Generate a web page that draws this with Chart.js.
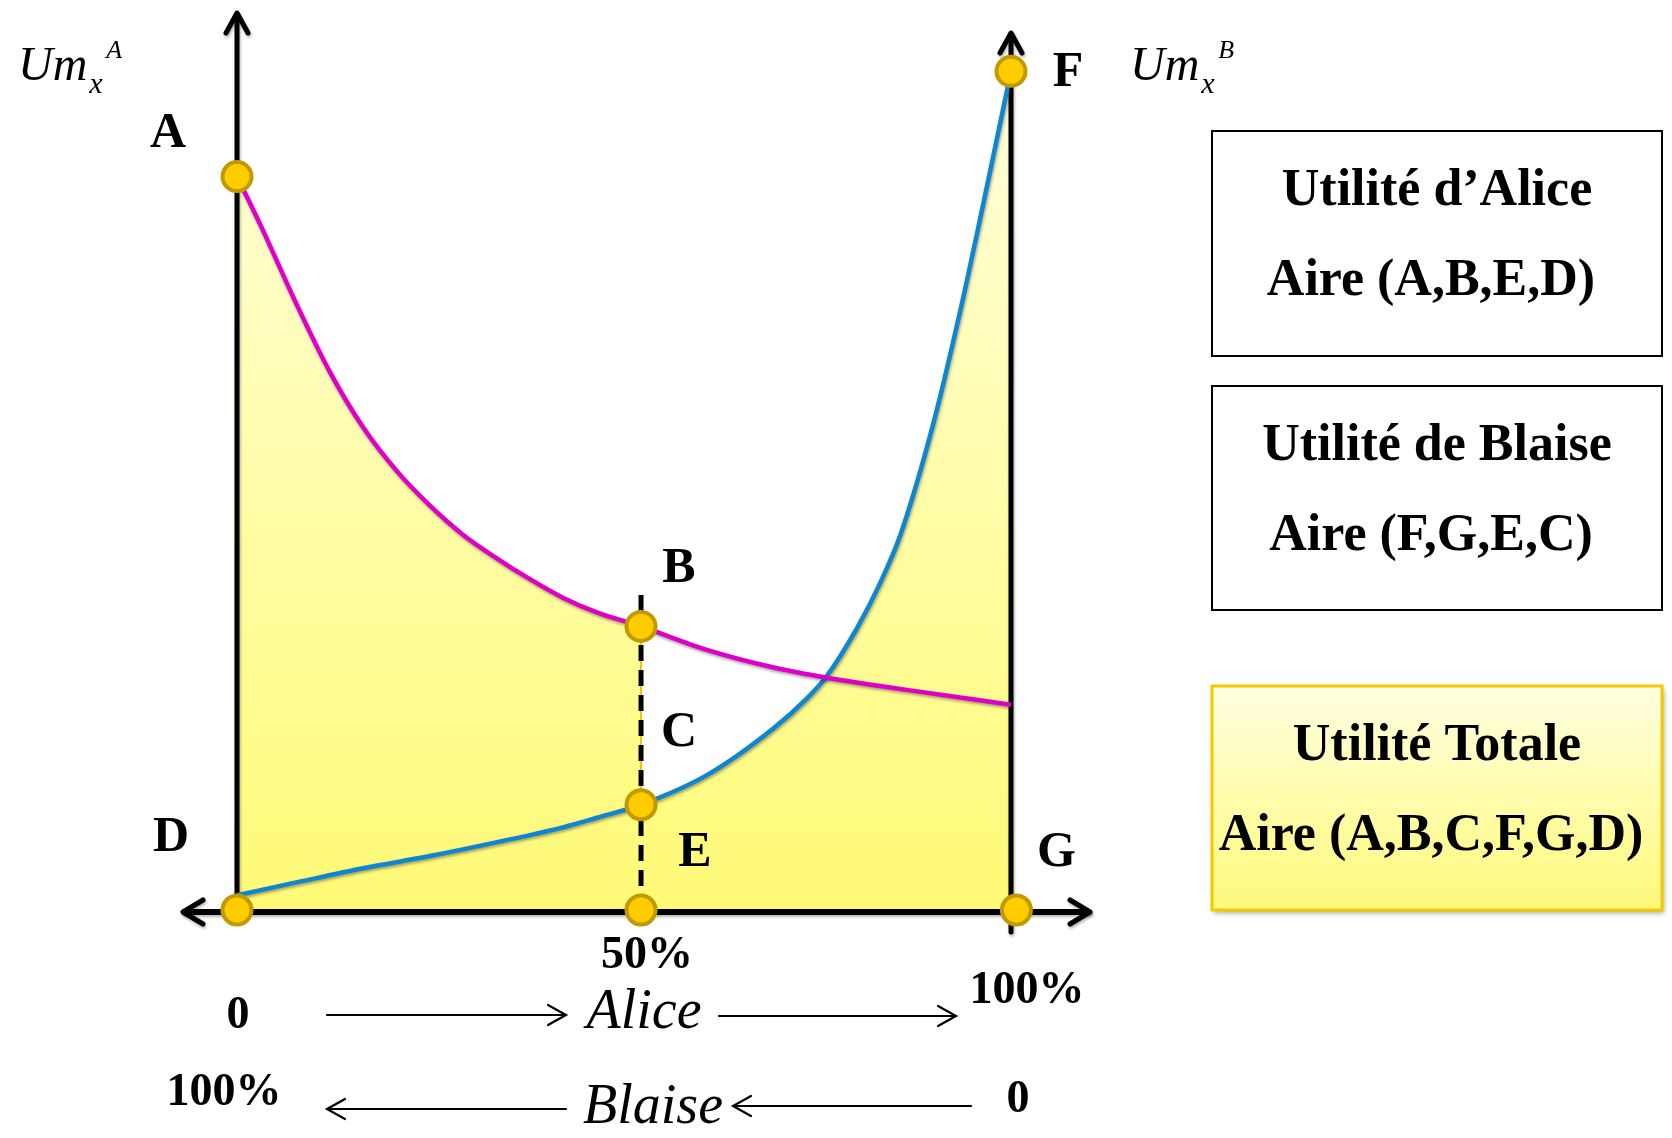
<!DOCTYPE html>
<html><head><meta charset="utf-8">
<script src="https://cdn.jsdelivr.net/npm/chart.js@4"></script>
<style>html,body{margin:0;padding:0;background:#fff;overflow:hidden}canvas{display:block}</style>
</head><body>
<canvas id="c" width="1672" height="1138"></canvas>
<script>
// ---- data (x = share of the good for Alice, %, y = marginal utility) ----
const shareMid = 52.2;
const pinkX = [0, 3.2, 7.6, 11.9, 16.2, 20.6, 24.9, 29.1, 33.6, 37.9, 42.1, 46.5, 52.2, 60.7, 69.2, 76.2, 86.5, 100];
const pinkY = [84.3, 78.4, 69.8, 62.0, 55.6, 50.5, 46.5, 43.2, 40.4, 38.0, 35.9, 34.2, 32.6, 29.9, 27.9, 26.7, 25.3, 23.6];
const blueX = [0, 7.8, 16.3, 24.9, 33.6, 42.1, 46.5, 52.2, 60.7, 69.2, 73.6, 76.2, 80.1, 83.1, 85.7, 89.9, 93.4, 96.4, 100];
const blueY = [1.7, 3.2, 4.8, 6.2, 7.8, 9.5, 10.6, 12.1, 15.5, 20.8, 24.3, 26.9, 32.4, 37.6, 43.1, 55.7, 68.7, 81.1, 96.4];
const pointNames = ['A', 'B', 'E', 'D', '', 'F', 'G'];
const pointX = [0, 52.2, 52.2, 0, 52.2, 100, 100.7];
const pointY = [84.3, 32.6, 12.1, 0, 0, 96.4, 0];
const dashTopY = 36.2;
const regionLabel = 'C';
const tickTop = ['0', '50%', '100%'];
const tickBottom = ['100%', '0'];
const boxTexts = [
  ['Utilité d\u2019Alice', 'Aire (A,B,E,D)'],
  ['Utilité de Blaise', 'Aire (F,G,E,C)'],
  ['Utilité Totale', 'Aire (A,B,C,F,G,D)']
];

// ---- derived point lists ----
const pinkPts = pinkX.map((x, i) => ({x, y: pinkY[i]}));
const bluePts = blueX.map((x, i) => ({x, y: blueY[i]}));
const fillLeftPts = pinkPts.filter(p => p.x <= shareMid);
const fillRightPts = bluePts.filter(p => p.x >= shareMid);
const markPts = pointX.map((x, i) => ({x, y: pointY[i]}));
const bIdx = pointNames.indexOf('B'), eIdx = pointNames.indexOf('E');

function fillGradient(context) {
  const ch = context.chart, a = ch.chartArea;
  if (!a) return 'rgba(255,250,150,0.9)';
  const g = ch.ctx.createLinearGradient(0, a.top, 0, a.bottom);
  g.addColorStop(0, '#FFFFE0');
  g.addColorStop(1, '#FFFA76');
  return g;
}

const SERIF = '"Liberation Serif", "DejaVu Serif", serif';

function chevron(c, tx, ty, dx, dy, len, half) {
  const bx = tx - dx * len, by = ty - dy * len;
  const px = -dy * half, py = dx * half;
  c.beginPath();
  c.moveTo(bx + px, by + py); c.lineTo(tx, ty); c.lineTo(bx - px, by - py);
  c.stroke();
}

const axesPlugin = {
  id: 'axesPlugin',
  beforeDatasetDraw(chart, args) {
    const ds = chart.data.datasets[args.index];
    if (ds.shadow) {
      const c = chart.ctx; c.save();
      c.shadowColor = 'rgba(0,0,0,0.35)'; c.shadowBlur = 3; c.shadowOffsetX = 1; c.shadowOffsetY = 2;
    }
  },
  afterDatasetDraw(chart, args) {
    const ds = chart.data.datasets[args.index];
    if (ds.shadow) chart.ctx.restore();
    if (!ds.drawAxesAfter) return;
    const c = chart.ctx, xs = chart.scales.x, ys = chart.scales.y;
    const x0 = xs.getPixelForValue(0), x1 = xs.getPixelForValue(100), y0 = ys.getPixelForValue(0);
    c.save();
    c.shadowColor = 'rgba(0,0,0,0.3)'; c.shadowBlur = 3; c.shadowOffsetX = 1; c.shadowOffsetY = 2;
    c.strokeStyle = '#000'; c.lineCap = 'round'; c.lineJoin = 'round';
    c.lineWidth = 6;
    c.beginPath(); c.moveTo(x0 - 52, y0 + 2); c.lineTo(x1 + 77, y0 + 2); c.stroke();
    c.lineWidth = 5;
    chevron(c, x1 + 79, y0 + 2, 1, 0, 20, 12);
    chevron(c, x0 - 54, y0 + 2, -1, 0, 20, 12);
    c.beginPath(); c.moveTo(x0, y0 + 2); c.lineTo(x0, 14); c.stroke();
    chevron(c, x0, 13, 0, -1, 20, 11);
    c.beginPath(); c.moveTo(x1, y0 + 22); c.lineTo(x1, 34); c.stroke();
    chevron(c, x1, 33, 0, -1, 20, 11);
    c.restore();
  },
  afterDraw(chart) {
    const c = chart.ctx, xs = chart.scales.x, ys = chart.scales.y;
    const P = i => ({x: xs.getPixelForValue(pointX[i]), y: ys.getPixelForValue(pointY[i])});
    c.save();
    c.fillStyle = '#000'; c.textBaseline = 'alphabetic'; c.textAlign = 'center';
    c.font = 'bold 50px ' + SERIF;
    const off = {A: [-69, -30], B: [38, -44], E: [54, 61], D: [-66, -59], F: [57, 15], G: [40, -44]};
    pointNames.forEach((n, i) => {
      if (!n) return; const p = P(i);
      c.fillText(n, p.x + off[n][0], p.y + off[n][1]);
    });
    const pb = P(bIdx), pe = P(eIdx);
    c.fillText(regionLabel, pb.x + 38, (pb.y + pe.y) / 2 + 30);

    const xm = xs.getPixelForValue(shareMid), xa = xs.getPixelForValue(0), xb = xs.getPixelForValue(100);
    c.font = 'bold 46px ' + SERIF;
    c.fillText(tickTop[0], xa + 1, 1028);
    c.fillText(tickTop[1], xm + 6, 968);
    c.fillText(tickTop[2], xb + 16, 1003);
    c.fillText(tickBottom[0], xa - 13, 1105);
    c.fillText(tickBottom[1], xb + 7, 1112);

    c.font = 'italic 56px ' + SERIF;
    c.fillText('Alice', xm + 3, 1028);
    c.fillText('Blaise', xm + 12, 1123);
    c.strokeStyle = '#000'; c.lineWidth = 2.2; c.lineCap = 'round';
    const hl = (x1, x2, y) => { c.beginPath(); c.moveTo(x1, y); c.lineTo(x2, y); c.stroke(); };
    hl(327, 565, 1015); chevron(c, 566, 1015, 1, 0, 18, 10);
    hl(719, 955, 1016); chevron(c, 956, 1016, 1, 0, 18, 10);
    hl(328, 566, 1109); chevron(c, 327, 1109, -1, 0, 18, 10);
    hl(734, 971, 1106); chevron(c, 733, 1106, -1, 0, 18, 10);

    const um = (x, sup) => {
      c.textAlign = 'left';
      c.font = 'italic 48px ' + SERIF; c.fillText('Um', x, 80);
      const w = c.measureText('Um').width;
      c.font = 'italic 30px ' + SERIF; c.fillText('x', x + w + 2, 93);
      c.font = 'italic 26px ' + SERIF; c.fillText(sup, x + w + 19, 58);
    };
    um(18, 'A'); um(1130, 'B');

    const boxes = [[131, 356], [386, 610], [686, 910]];
    const bl = 1212, br = 1662;
    boxes.forEach((b, i) => {
      const [t, bt] = b;
      c.save();
      if (i === 2) {
        c.shadowColor = 'rgba(0,0,0,0.35)'; c.shadowBlur = 5; c.shadowOffsetX = 2; c.shadowOffsetY = 3;
        const g = c.createLinearGradient(0, t, 0, bt);
        g.addColorStop(0, '#FFFFE0'); g.addColorStop(1, '#FFF97A');
        c.fillStyle = g; c.fillRect(bl, t, br - bl, bt - t);
        c.shadowColor = 'transparent';
        c.strokeStyle = '#F7C800'; c.lineWidth = 3;
      } else {
        c.fillStyle = '#fff'; c.fillRect(bl, t, br - bl, bt - t);
        c.strokeStyle = '#000'; c.lineWidth = 2;
      }
      c.strokeRect(bl, t, br - bl, bt - t);
      c.restore();
      c.fillStyle = '#000'; c.textAlign = 'center'; c.font = 'bold 52px ' + SERIF;
      const cx = (bl + br) / 2;
      c.fillText(boxTexts[i][0], cx, t + 74);
      c.fillText(boxTexts[i][1], cx - 6, t + 164);
    });
    c.restore();
  }
};

new Chart(document.getElementById('c'), {
  type: 'line',
  data: {
    datasets: [
      {data: fillLeftPts, fill: 'origin', backgroundColor: fillGradient, borderColor: 'rgba(245,195,0,0.9)', borderWidth: 2,
       pointRadius: 0, cubicInterpolationMode: 'monotone', order: 10, clip: false},
      {data: fillRightPts, fill: 'origin', backgroundColor: fillGradient, borderColor: 'rgba(245,195,0,0.9)', borderWidth: 2,
       pointRadius: 0, cubicInterpolationMode: 'monotone', order: 9, clip: false, drawAxesAfter: true},
      {data: [markPts[bIdx], markPts[eIdx]], fill: false, borderColor: '#F5C300', borderWidth: 2, pointRadius: 0, order: 8, clip: false},
      {data: [{x: shareMid, y: dashTopY}, {x: shareMid, y: 0}], fill: false, borderColor: '#000', borderWidth: 5,
       borderDash: [16, 9], pointRadius: 0, order: 7, clip: false},
      {data: bluePts, fill: false, borderColor: '#0E86D4', borderWidth: 4.5, pointRadius: 0,
       cubicInterpolationMode: 'monotone', order: 5, clip: false, shadow: true},
      {data: pinkPts, fill: false, borderColor: '#DE00C8', borderWidth: 4.5, pointRadius: 0,
       cubicInterpolationMode: 'monotone', order: 4, clip: false, shadow: true},
      {data: markPts, showLine: false, pointRadius: 14.5, pointBorderWidth: 4, pointBackgroundColor: '#FFCC00',
       pointBorderColor: '#C29A00', pointHoverRadius: 14.5, order: 1, clip: false}
    ]
  },
  options: {
    responsive: false, animation: false, devicePixelRatio: 1,
    layout: {padding: {left: 237, right: 661, top: 40, bottom: 228}},
    scales: {
      x: {type: 'linear', min: 0, max: 100, display: false},
      y: {type: 'linear', min: 0, max: 100, display: false}
    },
    plugins: {legend: {display: false}, tooltip: {enabled: false}}
  },
  plugins: [axesPlugin]
});
</script>
</body></html>
